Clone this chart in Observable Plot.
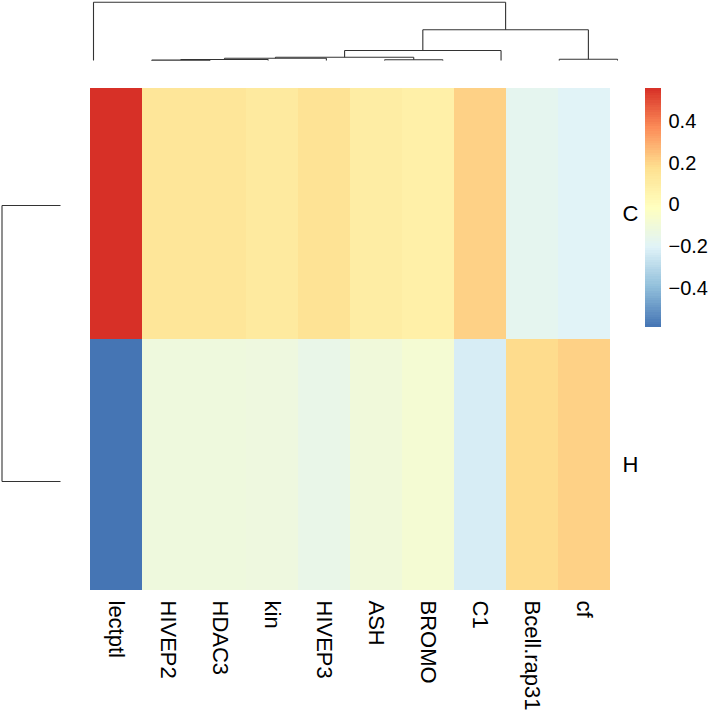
<!DOCTYPE html>
<html><head><meta charset="utf-8">
<script src="https://cdn.jsdelivr.net/npm/d3@7"></script>
<script src="https://cdn.jsdelivr.net/npm/@observablehq/plot@0.6"></script>
<style>
html,body{margin:0;padding:0;background:#fff;}
#chart{position:relative;width:709px;height:716px;overflow:hidden;}
#chart svg{position:absolute;left:0;top:0;overflow:visible;}
</style></head><body><div id="chart"></div>
<script>
// ---- data ----
const columns = ["lectptl","HIVEP2","HDAC3","kin","HIVEP3","ASH","BROMO","C1","Bcell.rap31","cf"];
const rows = ["C","H"];
const valuesC = [0.555, 0.14, 0.14, 0.115, 0.155, 0.095, 0.08, 0.21, -0.175, -0.20];
const valuesH = [-0.583, -0.115, -0.115, -0.12, -0.15, -0.105, -0.08, -0.225, 0.185, 0.21];
const legendTicks = [-0.4, -0.2, 0, 0.2, 0.4];
const palette = ["#4575B4","#91BFDB","#E0F3F8","#FFFFBF","#FEE090","#FC8D59","#D73027"];
// column dendrogram merges: [left node, right node, relative height]; new nodes get ids 10, 11, ...
const colMerges = [
  [1, 2, 0.007],
  [10, 3, 0.017],
  [11, 4, 0.038],
  [5, 6, 0.012],
  [12, 13, 0.057],
  [14, 7, 0.172],
  [8, 9, 0.022],
  [15, 16, 0.527],
  [0, 17, 1.0]
];
const rowMerges = [[0, 1, 1.0]];

// ---- derived ----
const FONT = "'Liberation Sans', Arial, Helvetica, sans-serif";
const cells = rows.flatMap((r, i) => columns.map((c, j) => ({row: r, col: c, value: (i === 0 ? valuesC : valuesH)[j]})));
const all = valuesC.concat(valuesH);
const vmin = d3.min(all), vmax = d3.max(all);
const colorScale = {type: "linear", domain: [vmin, vmax], interpolate: d3.piecewise(d3.interpolateRgb, palette)};

function dendroSegments(nLeaves, merges) {
  const pos = d3.range(nLeaves), hts = pos.map(() => 0), segs = [];
  for (const [a, b, h] of merges) {
    segs.push({p1: pos[a], h1: hts[a], p2: pos[a], h2: h});
    segs.push({p1: pos[b], h1: hts[b], p2: pos[b], h2: h});
    segs.push({p1: pos[a], h1: h, p2: pos[b], h2: h});
    pos.push((pos[a] + pos[b]) / 2); hts.push(h);
  }
  return segs;
}
const transparent = {background: "none", fontFamily: FONT, overflow: "visible"};
const chart = document.getElementById("chart");

// heatmap with labels
chart.append(Plot.plot({
  width: 709, height: 716,
  marginTop: 88, marginBottom: 126, marginLeft: 87.5, marginRight: 96,
  style: transparent,
  x: {type: "band", domain: columns, padding: 0, axis: null},
  y: {type: "band", domain: rows, padding: 0, axis: null},
  color: colorScale,
  marks: [
    Plot.cell(cells, {x: "col", y: "row", fill: "value", shapeRendering: "crispEdges"}),
    Plot.axisX({anchor: "bottom", tickSize: 0, tickPadding: 10, tickRotate: 90, fontSize: 22, label: null, fill: "#000"}),
    Plot.axisY({anchor: "right", tickSize: 0, tickPadding: 9, fontSize: 22, label: null, fill: "#000"})
  ]
}));

// top dendrogram
chart.append(Plot.plot({
  width: 709, height: 62, margin: 0,
  style: transparent,
  x: {type: "linear", domain: [0, columns.length - 1], range: [93, 617], axis: null},
  y: {type: "linear", domain: [0, 1], range: [60, 1.7], axis: null},
  marks: [
    Plot.link(dendroSegments(columns.length, colMerges), {x1: "p1", y1: "h1", x2: "p2", y2: "h2", stroke: "#333", strokeWidth: 1.1})
  ]
}));

// left dendrogram
chart.append(Plot.plot({
  width: 62, height: 716, margin: 0,
  style: transparent,
  x: {type: "linear", domain: [0, 1], range: [60, 1.5], axis: null},
  y: {type: "linear", domain: [0, rows.length - 1], range: [205, 481], axis: null},
  marks: [
    Plot.link(dendroSegments(rows.length, rowMerges), {x1: "h1", y1: "p1", x2: "h2", y2: "p2", stroke: "#333", strokeWidth: 1.1})
  ]
}));

// colour legend
const nBins = 100;
const bins = d3.range(nBins).map(i => ({y1: vmin + i * (vmax - vmin) / nBins, y2: vmin + (i + 1) * (vmax - vmin) / nBins}));
chart.append(Plot.plot({
  width: 709, height: 716,
  marginTop: 88.3, marginBottom: 716 - 326.5, marginRight: 709 - 661, marginLeft: 645,
  style: transparent,
  x: {type: "linear", domain: [0, 1], axis: null},
  y: {type: "linear", domain: [vmin, vmax], axis: null},
  color: colorScale,
  marks: [
    Plot.rect(bins, {x1: 0, x2: 1, y1: "y1", y2: "y2", fill: d => (d.y1 + d.y2) / 2, shapeRendering: "crispEdges"}),
    Plot.axisY({anchor: "right", ticks: legendTicks, tickSize: 0, tickPadding: 7, fontSize: 20, label: null, fill: "#000",
      tickFormat: d => d === 0 ? "0" : d3.format(".1f")(d)})
  ]
}));
</script></body></html>
